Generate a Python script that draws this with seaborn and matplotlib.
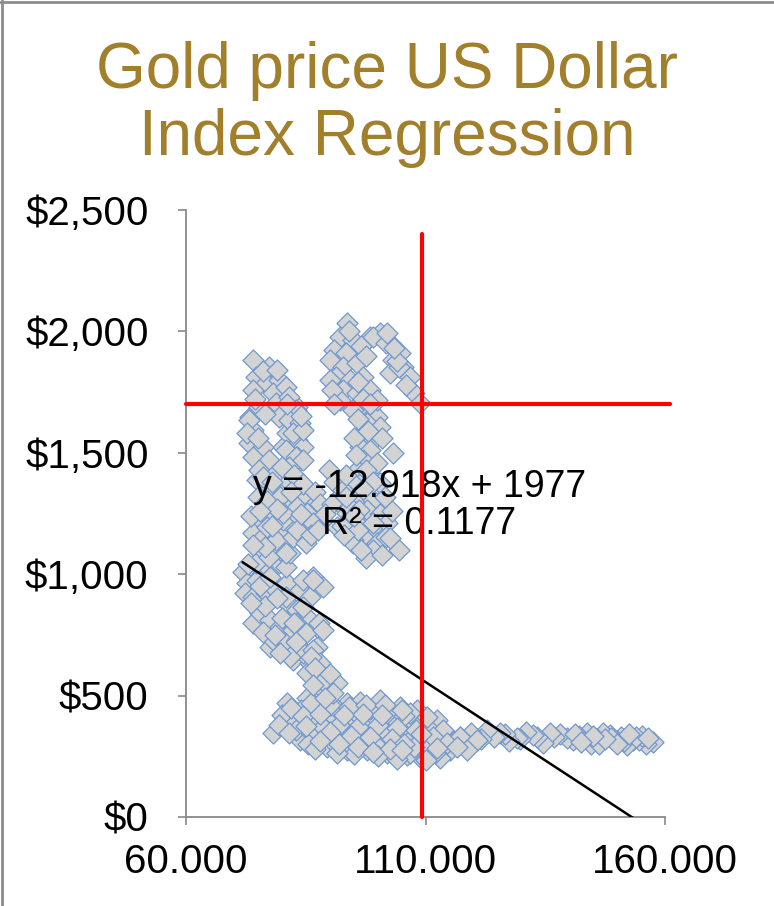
import numpy as np
import pandas as pd
import matplotlib
matplotlib.use("Agg")
import matplotlib.pyplot as plt
import seaborn as sns
from matplotlib.ticker import FuncFormatter
from matplotlib.lines import Line2D

sns.set_theme(style="white")
plt.rcParams["font.family"] = ["Liberation Sans", "DejaVu Sans"]

# Dollar index (x) vs gold price (y), grouped by era

# mid 80s dollar peak - flat tail on the right
dxy_tail = [157.5, 156.0, 154.5, 153.3, 152.0, 150.8, 149.9, 148.5, 147.1, 145.8,
            144.5, 143.7, 142.0, 140.8, 139.5, 138.0, 136.8, 136.0, 134.5, 133.3,
            132.4, 131.0, 129.8, 129.0, 127.5, 126.5, 125.6, 124.2, 122.8, 121.5,
            120.7, 119.5, 118.6, 117.2, 116.0, 155.2, 151.4, 146.3, 141.2, 148.8,
            154.0, 150.0, 147.5, 145.0, 142.5, 156.5, 152.5]
gold_tail = [309, 302, 318, 317, 296, 330, 312, 338, 346, 322,
             300, 346, 335, 318, 325, 342, 330, 346, 305, 328,
             338, 350, 322, 325, 312, 340, 346, 330, 358, 322,
             317, 345, 300, 330, 312, 335, 312, 300, 340, 325,
             330, 300, 320, 335, 310, 325, 340]

# late 80s to early 2000s - the low band
dxy_band = [81.0, 85.2, 89.4, 93.6, 96.3, 100.5, 104.7, 108.2, 112.3,
            78.2, 82.4, 86.6, 90.8, 94.9, 99.1, 103.3, 107.5, 110.9,
            83.8, 89.4, 93.6, 97.7, 101.9, 106.1, 110.3,
            89.4, 93.6, 97.7, 101.9, 106.1, 108.9,
            106.8, 110.3, 113.7, 117.2, 120.7, 107.4, 110.9, 115.1, 118.6, 108.9, 113.0, 106.8,
            80.0, 84.0, 87.5, 91.5, 95.5, 98.5, 102.0, 105.5, 79.5, 83.0, 86.0, 88.5,
            92.0, 96.0, 100.0, 104.0, 108.0, 85.5, 91.0, 95.5, 99.5, 103.5, 107.5,
            111.5, 114.5, 116.5, 112.0, 100.0, 104.0, 95.0, 91.5, 87.0, 110.0,
            82.0, 86.0, 90.0, 94.0, 97.5, 101.5, 84.5, 88.0, 93.0, 97.0, 101.0, 105.0,
            81.5, 85.0, 90.0, 94.5, 98.5, 103.0, 105.5, 109.0, 112.5, 96.0, 92.0, 88.0,
            102.5, 99.0, 105.0]
gold_band = [470, 490, 482, 470, 474, 482, 453, 441, 400,
             346, 387, 400, 412, 400, 412, 400, 387, 358,
             317, 330, 346, 358, 346, 330, 317,
             288, 276, 276, 264, 255, 264,
             428, 412, 358, 330, 317, 330, 288, 276, 276, 247, 243, 264,
             420, 440, 455, 445, 430, 445, 430, 415, 380, 360, 345, 372,
             380, 370, 380, 365, 360, 300, 305, 310, 300, 295, 290,
             330, 305, 290, 265, 250, 240, 258, 265, 280, 236,
             450, 470, 460, 455, 460, 460, 415, 425, 420, 425, 420, 440,
             345, 375, 350, 335, 330, 320, 300, 340, 285, 290, 300, 315,
             280, 268, 275]

# 2002-2008 - falling dollar, rising gold
dxy_arm = [77.5, 81.0, 84.5, 87.3, 82.3, 85.9, 88.6, 85.2, 89.4, 91.5, 88.0, 90.7,
           78.2, 81.0, 83.1, 84.5, 86.6, 88.0, 81.7, 79.6,
           74.0, 75.4, 77.5, 79.6, 82.3, 84.5, 87.3, 81.0, 83.1, 85.2,
           71.8, 72.7, 74.8, 72.3, 74.0, 76.8, 78.2, 81.0, 83.8, 85.9,
           86.6, 88.6, 84.5, 80.9, 84.4, 87.8, 83.0, 85.1, 88.5, 86.5,
           76.0, 79.5, 80.9, 74.6,
           76.0, 78.5, 80.0, 82.5, 76.5, 79.0, 73.5, 75.5, 77.5, 73.0,
           83.0, 86.0, 88.5, 87.0, 90.0, 86.5, 89.0]
gold_arm = [700, 688, 688, 700, 647, 634, 605, 593, 564, 552, 535, 511,
            729, 717, 729, 676, 688, 634, 659, 676,
            799, 840, 811, 783, 770, 783, 783, 881, 853, 824,
            1010, 963, 976, 922, 906, 922, 947, 963, 935, 906,
            989, 947, 976, 908, 866, 797, 797, 756, 770, 976,
            1045, 1045, 1031, 1045,
            760, 750, 820, 800, 870, 900, 880, 950, 990, 1040,
            720, 660, 560, 615, 590, 545, 490]

# 2009-2012 - the left column
dxy_left = [75.4, 74.0, 77.5, 80.3, 82.3, 85.3, 87.3, 75.4, 79.6, 81.7,
            76.7, 79.5, 82.3, 78.1, 80.9, 84.4, 86.4, 77.4, 80.2, 83.0, 85.7, 88.5,
            76.0, 78.8, 82.3, 85.1, 77.4, 80.9,
            77.5, 79.6, 83.2, 80.3, 85.3, 86.5, 76.9, 83.2,
            73.4, 74.0, 73.4, 74.8, 76.1, 74.8,
            83.2, 84.4, 80.3, 83.2, 82.3, 81.1,
            79.6, 83.2, 81.7, 83.8, 81.1,
            73.9, 77.4, 74.6, 76.7, 79.5, 73.9, 78.1, 80.9, 75.3, 78.8, 81.6, 83.0,
            73.2, 79.5, 81.6, 83.7, 73.2, 76.0, 82.3, 84.4, 73.9, 77.4, 80.9, 83.0,
            75.3, 78.8, 81.6, 84.4,
            74.5, 76.5, 72.8, 75.0, 81.0, 84.0, 76.0, 78.0, 80.0, 82.5, 84.5, 87.0,
            75.0, 77.0, 79.0, 73.5, 75.5, 82.0, 84.0, 86.0, 76.5, 74.0, 78.0, 88.0,
            76.0, 79.0]
gold_left = [1194, 1170, 1153, 1182, 1194, 1211, 1194, 1112, 1100, 1087,
             1374, 1347, 1388, 1291, 1306, 1319, 1278, 1237, 1223, 1250, 1209, 1223,
             1154, 1141, 1154, 1127, 1072, 1086,
             1359, 1318, 1277, 1252, 1252, 1211, 1194, 1182,
             1648, 1594, 1540, 1499, 1442, 1388,
             1553, 1524, 1524, 1483, 1442, 1388,
             1689, 1689, 1635, 1606, 1582,
             1882, 1855, 1814, 1786, 1800, 1759, 1745, 1772, 1690, 1704, 1731, 1676,
             1635, 1648, 1635, 1621, 1539, 1525, 1580, 1594, 1484, 1470, 1512, 1484,
             1429, 1415, 1443, 1470,
             1720, 1660, 1580, 1560, 1700, 1650, 1400, 1380, 1440, 1410, 1370, 1340,
             1320, 1300, 1270, 1240, 1260, 1340, 1250, 1160, 1110, 1120, 1200, 1290,
             1838, 1840]

# 2013-2015 - crossing over
dxy_mid = [89.9, 91.0, 92.0, 90.5, 93.4, 91.5, 93.6, 89.0, 87.5]
gold_mid = [1430, 1380, 1320, 1290, 1265, 1194, 1252, 1250, 1180]

# 2015-2022 - the right cluster and the hook to today
dxy_right = [98.4, 99.8, 97.7, 100.5, 97.0, 99.1, 96.3, 98.4, 103.3, 97.0, 99.8, 95.6,
             97.7, 94.9, 100.5, 92.8, 96.3, 99.1, 94.2, 97.7, 100.5, 95.6, 99.1, 101.9,
             97.0, 99.8, 94.9, 93.4, 96.2, 99.0, 101.8, 104.5, 94.8, 99.0, 97.5, 101.0,
             92.5, 96.0,
             93.6, 92.2, 94.9, 90.8, 93.5, 90.1, 92.8, 95.6, 91.4, 94.2, 97.0, 92.8,
             95.6, 92.2, 98.4, 99.8, 96.3, 90.0, 90.5, 94.9,
             98.4, 100.5, 102.6, 104.7, 103.3, 102.6, 105.4, 106.8, 107.5, 108.9,
             99.0, 101.8, 104.5,
             96.0, 98.0, 95.0, 101.0, 97.5, 95.5, 99.0, 93.5, 97.0, 101.5, 95.0, 103.0,
             102.5, 96.5, 93.0, 97.0, 98.5, 94.0, 96.5, 97.5, 96.0, 91.0, 102.0, 106.0,
             104.0, 103.5]
gold_right = [1676, 1649, 1622, 1607, 1580, 1553, 1525, 1512, 1498, 1470, 1456, 1429,
              1401, 1374, 1374, 1347, 1319, 1306, 1278, 1264, 1250, 1209, 1195, 1209,
              1154, 1127, 1141, 1319, 1264, 1209, 1154, 1100, 1127, 1100, 1065, 1080,
              1200, 1180,
              2033, 1978, 1965, 1924, 1910, 1882, 1855, 1868, 1814, 1800, 1814, 1759,
              1745, 1718, 1759, 1718, 1690, 1800, 1760, 1676,
              1978, 1992, 1951, 1910, 1882, 1827, 1855, 1814, 1745, 1704,
              1978, 1951, 1855,
              1640, 1590, 1560, 1560, 1430, 1490, 1380, 1410, 1350, 1320, 1240, 1260,
              1150, 1100, 1160, 1720, 1700, 2000, 1940, 1900, 1790, 1700, 1995, 1780,
              1880, 1930]

# Excel trendline and today's crosshair
slope, intercept = -12.918, 1977
r_squared = 0.1177
current_dxy, current_gold = 109.2, 1700

x_ticks = [60, 110, 160]
y_ticks = [0, 500, 1000, 1500, 2000, 2500]

df = pd.DataFrame({
    "dxy": np.concatenate([dxy_tail, dxy_band, dxy_arm, dxy_left, dxy_mid, dxy_right]),
    "gold": np.concatenate([gold_tail, gold_band, gold_arm, gold_left, gold_mid, gold_right]),
})

fig = plt.figure(figsize=(7.74, 9.06), dpi=100)
ax = fig.add_axes([186 / 774, 1 - 817 / 906, (665 - 186) / 774, (817 - 210) / 906])

sns.scatterplot(data=df, x="dxy", y="gold", marker="D", s=115, color="#D3D3D3",
                edgecolor="#6F98CE", linewidth=0.9, ax=ax, zorder=2, legend=False)

# trendline over the data range, clipped at $0 by the axis
xs = np.array([df["dxy"].min(), df["dxy"].max()])
ax.plot(xs, slope * xs + intercept, color="black", lw=1.8, zorder=3)

ax.text(108.7, 1318, f"y = {slope}x + {intercept}", ha="center", va="baseline",
        fontsize=27, color="black", zorder=4)
ax.text(108.7, 1166, f"R² = {r_squared}", ha="center", va="baseline",
        fontsize=27, color="black", zorder=4)

# red crosshair at the latest reading
ax.plot([current_dxy, current_dxy], [0, 2400], color="red", lw=3, zorder=5, clip_on=False)
ax.plot([60, 161], [current_gold, current_gold], color="red", lw=3, zorder=5, clip_on=False)

ax.set_xlim(60, 160)
ax.set_ylim(0, 2500)
ax.set_xticks(x_ticks)
ax.set_yticks(y_ticks)
ax.xaxis.set_major_formatter(FuncFormatter(lambda v, p: f"{v:.3f}"))
ax.yaxis.set_major_formatter(FuncFormatter(lambda v, p: f"${v:,.0f}"))
ax.set_xlabel("")
ax.set_ylabel("")

for side in ["top", "right"]:
    ax.spines[side].set_visible(False)
for side in ["left", "bottom"]:
    ax.spines[side].set_color("#898989")
    ax.spines[side].set_linewidth(1.3)

ax.tick_params(axis="both", which="major", bottom=True, left=True, direction="out",
               length=6, width=1.2, color="#898989", labelsize=29, labelcolor="black")
ax.tick_params(axis="x", pad=13)
ax.tick_params(axis="y", pad=21)

fig.text(0.5, 1 - 88 / 906, "Gold price US Dollar", ha="center", va="baseline",
         fontsize=46, color="#A27F2B")
fig.text(0.5, 1 - 155 / 906, "Index Regression", ha="center", va="baseline",
         fontsize=46, color="#A27F2B")

# chart frame edge on the left and top
fig.add_artist(Line2D([0.002, 0.002], [0, 1], transform=fig.transFigure, color="#8C8C8C", lw=2))
fig.add_artist(Line2D([0, 1], [0.998, 0.998], transform=fig.transFigure, color="#8C8C8C", lw=2))

fig.savefig("out.png", dpi=100)
